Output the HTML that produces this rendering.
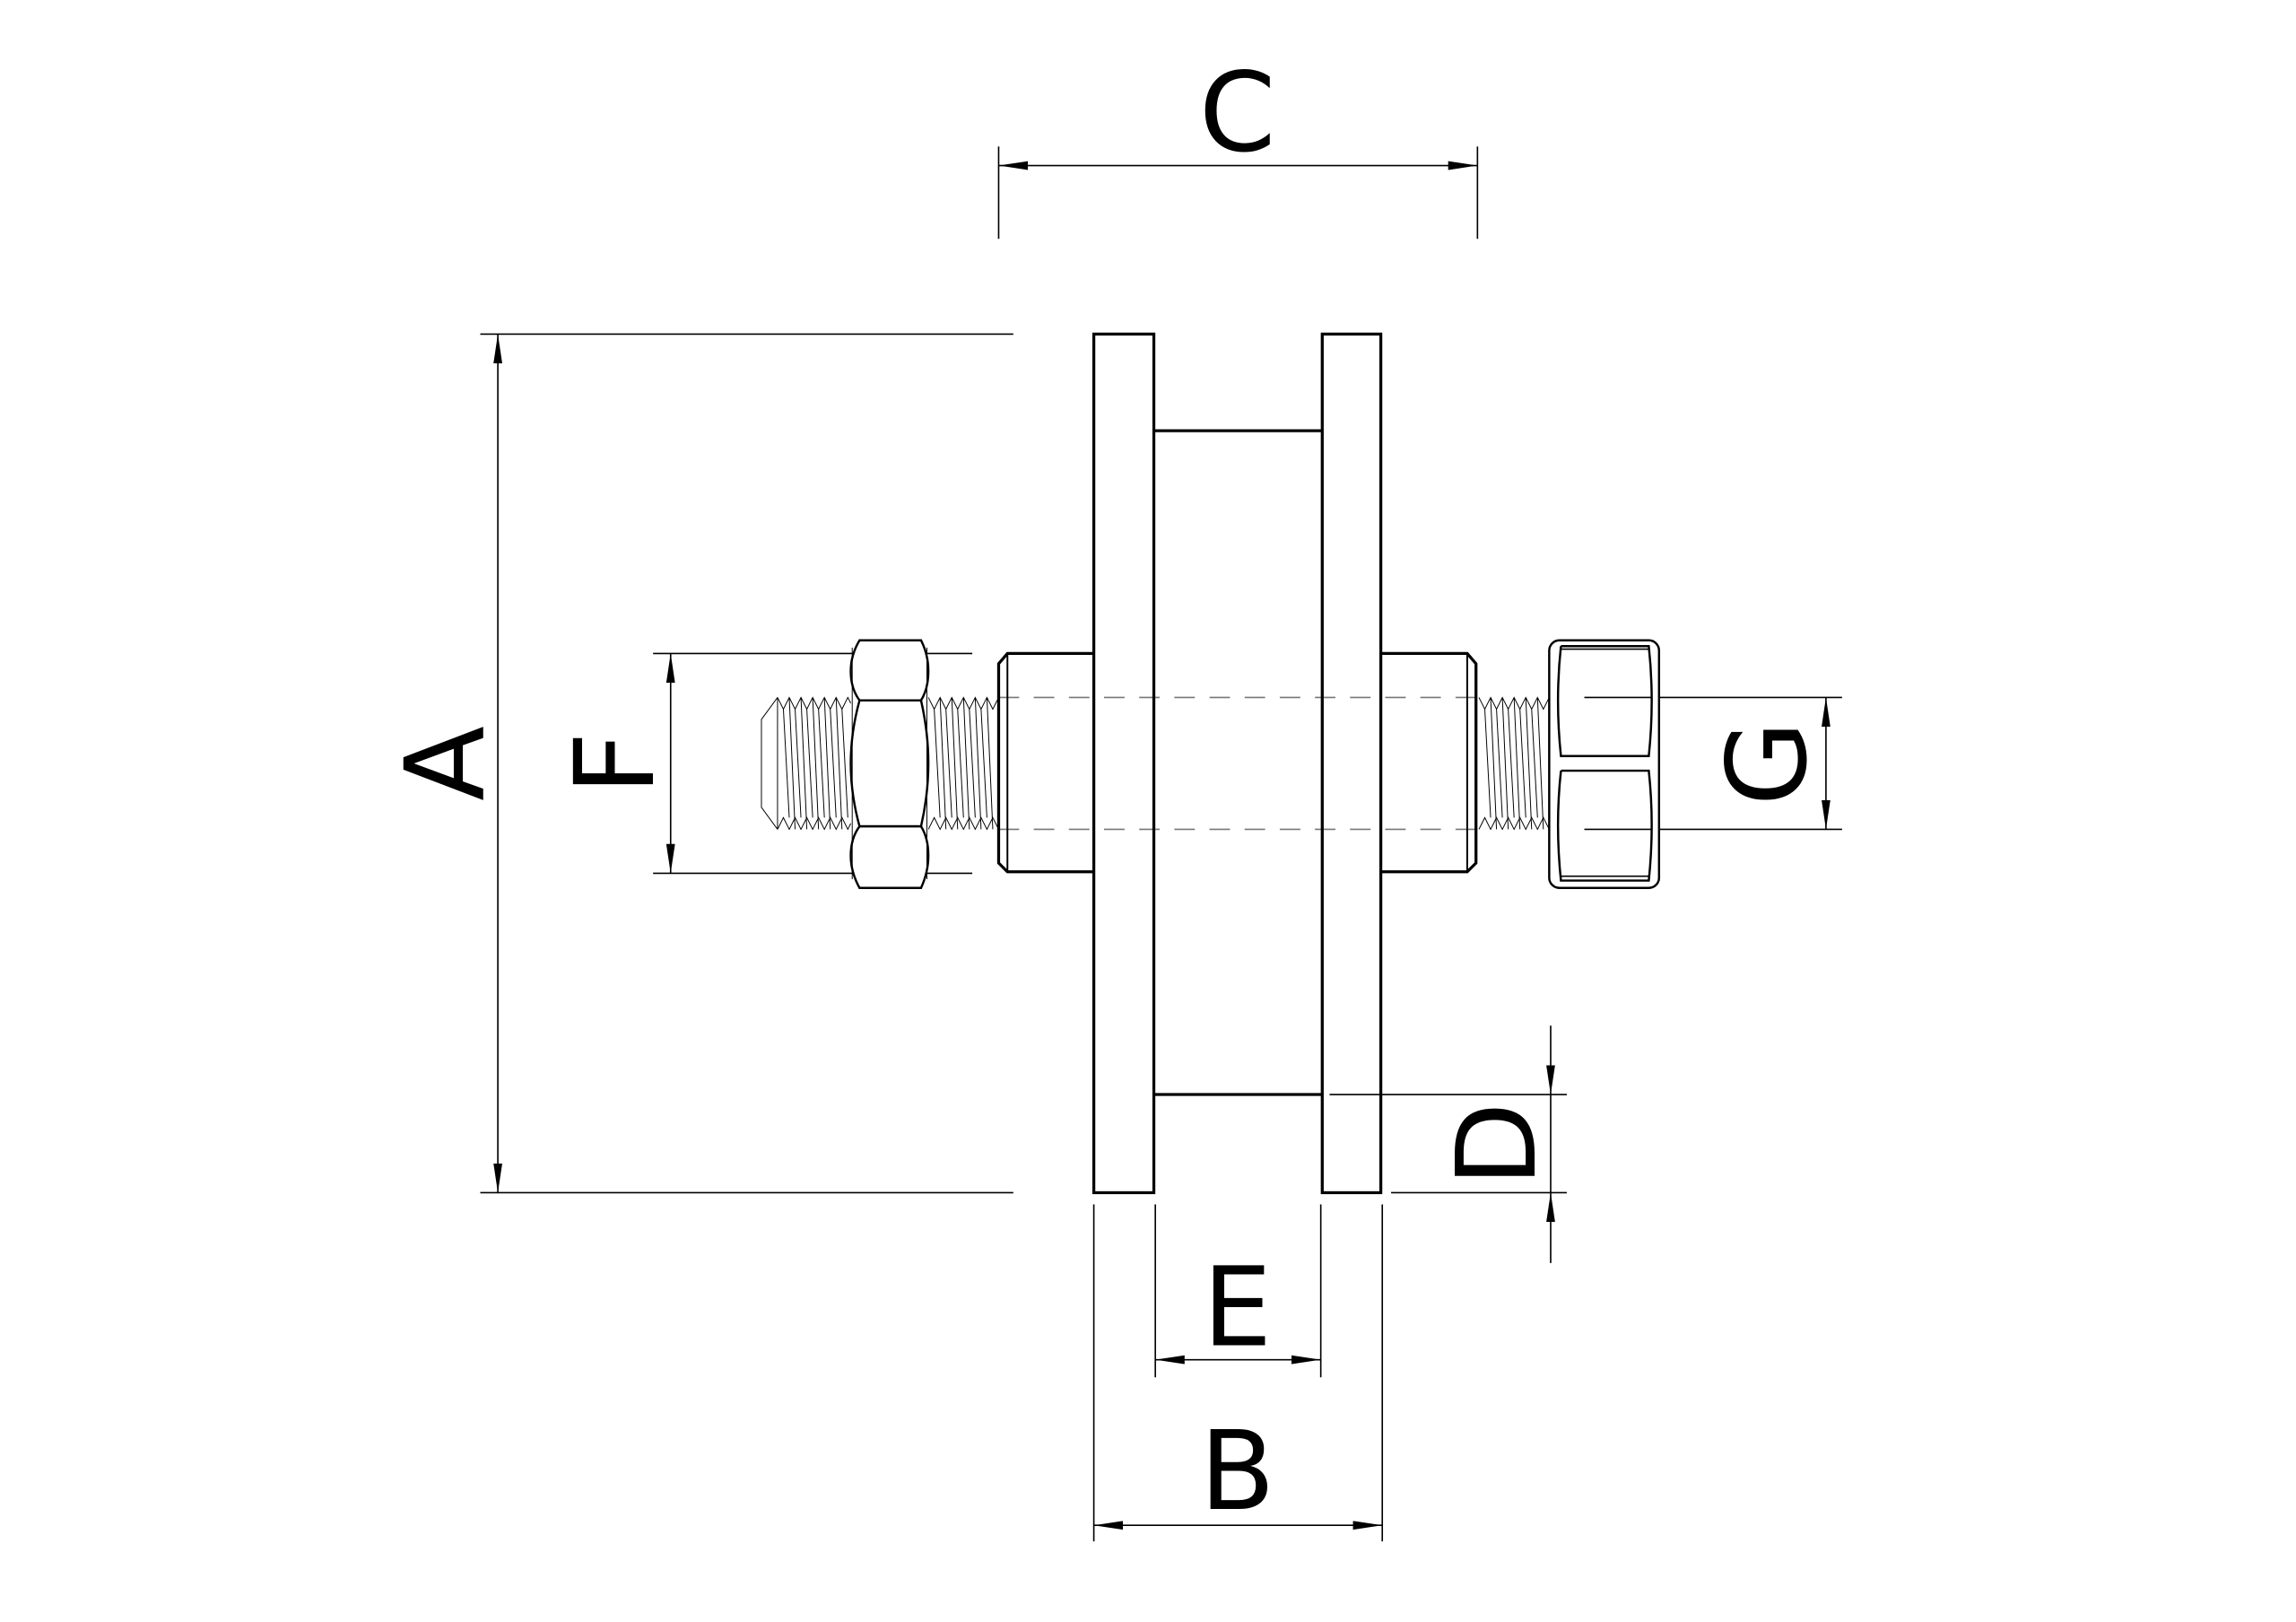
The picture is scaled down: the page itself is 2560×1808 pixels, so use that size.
<!DOCTYPE html>
<html><head><meta charset="utf-8"><style>
html,body{margin:0;padding:0;background:#fff;}
svg{display:block;}
text{font-family:"DejaVu Sans","Liberation Sans",sans-serif;font-size:75px;fill:#000;}
</style></head><body>
<svg width="2560" height="1808" viewBox="0 0 1568 1107" preserveAspectRatio="none" xmlns="http://www.w3.org/2000/svg">
<defs>
<marker id="ar" viewBox="0 0 20 6" refX="20" refY="3" markerWidth="20" markerHeight="6" markerUnits="userSpaceOnUse" orient="auto-start-reverse">
<path d="M0,0 L20,3 L0,6 Z" fill="#000"/></marker>
</defs>
<g fill="none" stroke="#000" stroke-width="1">
<line x1="682" y1="100" x2="682" y2="163"/><line x1="1009" y1="100" x2="1009" y2="163"/>
<line x1="682" y1="113" x2="1009" y2="113" marker-start="url(#ar)" marker-end="url(#ar)"/>
<line x1="328" y1="228" x2="692" y2="228"/><line x1="328" y1="814" x2="692" y2="814"/>
<line x1="340" y1="228" x2="340" y2="814" marker-start="url(#ar)" marker-end="url(#ar)"/>
<line x1="446" y1="446" x2="664" y2="446"/><line x1="446" y1="596" x2="664" y2="596"/>
<line x1="458" y1="446" x2="458" y2="596" marker-start="url(#ar)" marker-end="url(#ar)"/>
<line x1="1082" y1="476" x2="1258" y2="476"/><line x1="1082" y1="566" x2="1258" y2="566"/>
<line x1="1247" y1="476" x2="1247" y2="566" marker-start="url(#ar)" marker-end="url(#ar)"/>
<line x1="908" y1="747" x2="1070" y2="747"/><line x1="950" y1="814" x2="1070" y2="814"/>
<line x1="1059" y1="700" x2="1059" y2="747" marker-end="url(#ar)"/>
<line x1="1059" y1="862" x2="1059" y2="814" marker-end="url(#ar)"/>
<line x1="1059" y1="747" x2="1059" y2="814"/>
<line x1="789" y1="822" x2="789" y2="940"/><line x1="902" y1="822" x2="902" y2="940"/>
<line x1="789" y1="928" x2="902" y2="928" marker-start="url(#ar)" marker-end="url(#ar)"/>
<line x1="747" y1="822" x2="747" y2="1052"/><line x1="944" y1="822" x2="944" y2="1052"/>
<line x1="747" y1="1041" x2="944" y2="1041" marker-start="url(#ar)" marker-end="url(#ar)"/>
</g>
<g stroke="#777" stroke-width="1" stroke-dasharray="14,10" fill="none">
<line x1="682" y1="476" x2="1008" y2="476"/><line x1="682" y1="566" x2="1008" y2="566"/>
</g>
<g fill="none" stroke="#000" stroke-width="2">
<rect x="747" y="228" width="41" height="586"/>
<rect x="903" y="228" width="40" height="586"/>
<line x1="788" y1="294" x2="903" y2="294"/><line x1="788" y1="747" x2="903" y2="747"/>
<polyline points="747,446 688,446 682,453 682,589 688,595 747,595"/>
<line x1="688" y1="446" x2="688" y2="595" stroke-width="1.2"/>
<polyline points="943,446 1002,446 1008,453 1008,589 1002,595 943,595"/>
<line x1="1002" y1="446" x2="1002" y2="595" stroke-width="1.2"/>
</g>
<g fill="none" stroke="#000" stroke-width="0.6">
<polyline points="531,476 520,491 520,551 531,566"/>
<line x1="531" y1="476" x2="531" y2="566"/>
<path d="
M531,476 l4,8 l4,-8 l4,8 l4,-8 l4,8 l4,-8 l4,8 l4,-8 l4,8 l4,-8 l4,8 l4,-8 l2,4
M531,566 l4,-8 l4,8 l4,-8 l4,8 l4,-8 l4,8 l4,-8 l4,8 l4,-8 l4,8 l4,-8 l4,8 l2,-4
M535,484 l4,74 M543,484 l4,74 M551,484 l4,74 M559,484 l4,74 M567,484 l4,74 M575,484 l4,74
M539,476 l4,90 M547,476 l4,90 M555,476 l4,90 M563,476 l4,90 M571,476 l4,90
M634,476 l4,8 l4,-8 l4,8 l4,-8 l4,8 l4,-8 l4,8 l4,-8 l4,8 l4,-8 l4,8 l4,-8
M634,566 l4,-8 l4,8 l4,-8 l4,8 l4,-8 l4,8 l4,-8 l4,8 l4,-8 l4,8 l4,-8 l4,8
M638,484 l4,74 M646,484 l4,74 M654,484 l4,74 M662,484 l4,74 M670,484 l4,74
M642,476 l4,90 M650,476 l4,90 M658,476 l4,90 M666,476 l4,90 M674,476 l4,90
M1010,476 l4,8 l4,-8 l4,8 l4,-8 l4,8 l4,-8 l4,8 l4,-8 l4,8 l4,-8 l4,8 l4,-8
M1010,566 l4,-8 l4,8 l4,-8 l4,8 l4,-8 l4,8 l4,-8 l4,8 l4,-8 l4,8 l4,-8 l4,8
M1014,484 l4,74 M1022,484 l4,74 M1030,484 l4,74 M1038,484 l4,74 M1046,484 l4,74
M1018,476 l4,90 M1026,476 l4,90 M1034,476 l4,90 M1042,476 l4,90 M1050,476 l4,90"/>
</g>
<g fill="#fff" stroke="#000" stroke-width="1.5">
<path d="M587,437 L629,437 Q634,447 634,458 Q634,470 629,478 L587,478 Q581,470 581,458 Q581,447 587,437 Z"/>
<path d="M587,478 L629,478 Q634,500 634,521 Q634,542 629,564 L587,564 Q581,542 581,521 Q581,500 587,478 Z"/>
<path d="M587,564 L629,564 Q634,572 634,584 Q634,595 629,606 L587,606 Q581,595 581,584 Q581,572 587,564 Z"/>
</g>
<g stroke="#000" stroke-width="0.6"><line x1="582" y1="442" x2="582" y2="600"/><line x1="633" y1="442" x2="633" y2="600"/></g>
<g fill="#fff" stroke="#000" stroke-width="1.5">
<rect x="1058" y="437" width="75" height="169" rx="7"/>
</g>
<g fill="none" stroke="#000" stroke-width="1.5">
<path d="M1066,441 L1126,441 Q1130,478 1126,516 L1066,516 Q1062,478 1066,441"/>
<path d="M1066,526 L1126,526 Q1130,563 1126,601 L1066,601 Q1062,563 1066,526"/>
<line x1="1066" y1="443" x2="1126" y2="443" stroke-width="1"/>
<line x1="1066" y1="598" x2="1126" y2="598" stroke-width="1"/>
</g>
<g stroke="#000" stroke-width="1"><line x1="1082" y1="476" x2="1128" y2="476"/><line x1="1082" y1="566" x2="1128" y2="566"/></g>
<text x="845" y="103" text-anchor="middle">C</text>
<text x="845" y="918" text-anchor="middle">E</text>
<text x="845" y="1030" text-anchor="middle">B</text>
<text transform="translate(330,521) rotate(-90)" text-anchor="middle">A</text>
<text transform="translate(446,521) rotate(-90)" text-anchor="middle">F</text>
<text transform="translate(1233,521) rotate(-90)" text-anchor="middle">G</text>
<text transform="translate(1048,781) rotate(-90)" text-anchor="middle">D</text>
</svg>
</body></html>
